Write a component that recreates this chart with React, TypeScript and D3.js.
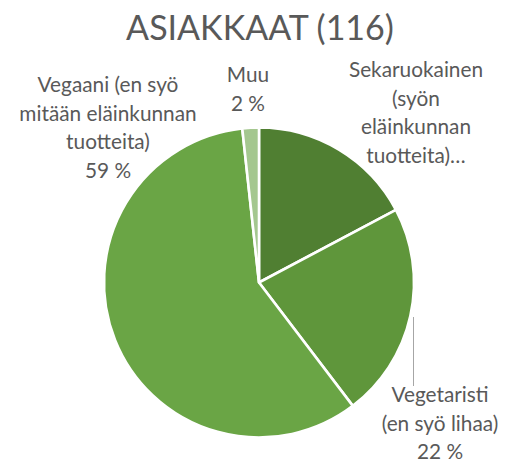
import React from 'react'
import * as d3 from 'd3'

// asiakkaat, n = 116
const categories = [
  'Sekaruokainen (syön eläinkunnan tuotteita)',
  'Vegetaristi (en syö lihaa)',
  'Vegaani (en syö mitään eläinkunnan tuotteita)',
  'Muu',
]
const counts = [20, 26, 68, 2]
const percentLabels = ['17 %', '22 %', '59 %', '2 %']
// label text as shown in the chart (Excel cuts the first one)
const labelLines = [
  ['Sekaruokainen', '(syön', 'eläinkunnan', 'tuotteita)…'],
  ['Vegetaristi', '(en syö lihaa)', '22 %'],
  ['Vegaani (en syö', 'mitään eläinkunnan', 'tuotteita)', '59 %'],
  ['Muu', '2 %'],
]
const title = 'ASIAKKAAT (116)'

const colors = ['#507f32', '#5f963b', '#6aa545', '#a4c78f']
// label block centre x / first baseline y, by slice
const labelPos = [
  [416, 77],
  [440, 402],
  [108, 92],
  [248, 82],
]

const W = 507
const H = 463

export default function App() {
  const cx = 259, cy = 282.5, r = 155
  const lineH = 28.5

  const pie = d3.pie<number>().sort(null).value(d => d)
  const arcs = pie(counts)
  const arc = d3.arc<d3.PieArcDatum<number>>().innerRadius(0).outerRadius(r)

  return (
    <svg width={W} height={H} style={{position: 'absolute', left: 0, top: 0, background: '#fff'}}
      fontFamily="Lato, 'Open Sans', sans-serif">
      <text x={260} y={40} textAnchor="middle" fontSize={34} fill="#595959">{title}</text>
      <g transform={`translate(${cx},${cy})`}>
        {arcs.map((a, i) => (
          <path key={categories[i]} d={arc(a) || ''} fill={colors[i]} stroke="#fff" strokeWidth={2.6}
            strokeLinejoin="round" />
        ))}
      </g>
      {/* leader for Vegetaristi */}
      <line x1={413.5} y1={317} x2={413.5} y2={386} stroke="#a6a6a6" strokeWidth={1} />
      {labelLines.map((lines, i) => (
        <text key={i} textAnchor="middle" fontSize={20.8} fill="#595959">
          {lines.map((t, j) => (
            <tspan key={j} x={labelPos[i][0]} y={labelPos[i][1] + j * lineH}>{t}</tspan>
          ))}
        </text>
      ))}
      <desc>{percentLabels.join(', ')}</desc>
    </svg>
  )
}
